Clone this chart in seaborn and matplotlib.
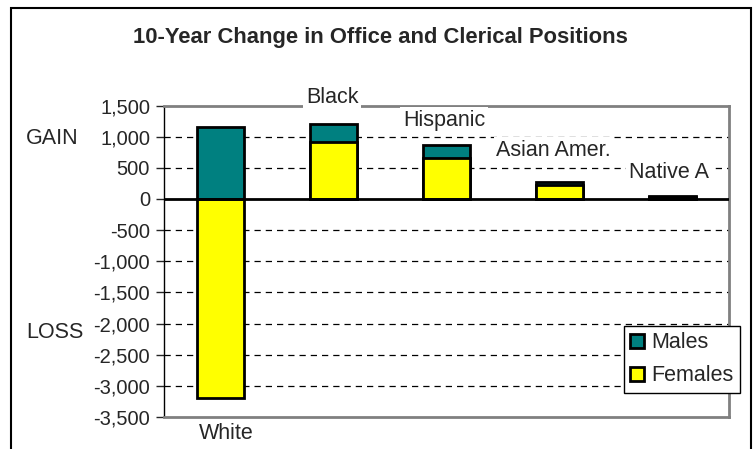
import matplotlib
matplotlib.use("Agg")
import matplotlib.pyplot as plt
import matplotlib.patches as mpatches
from matplotlib.ticker import FuncFormatter
import seaborn as sns
import pandas as pd

groups = ["White", "Black", "Hispanic", "Asian Amer.", "Native A"]
females = [-3200, 920, 665, 220, 25]
males = [1160, 290, 205, 45, 20]
yticks = list(range(-3500, 1501, 500))

teal = "#008080"
yellow = "#FFFF00"

# teal bar goes to the top of the stack, yellow (females) drawn over it
tops = [m + max(f, 0) for f, m in zip(females, males)]
df = pd.DataFrame({"group": groups, "Females": females, "top": tops})

sns.set_style("white")
plt.rcParams["font.family"] = ["Liberation Sans", "DejaVu Sans"]

fig = plt.figure(figsize=(7.53, 4.49), dpi=100)
ax = fig.add_axes([164 / 753, 1 - 417 / 449, 565 / 753, 311.5 / 449])

sns.barplot(data=df, x="group", y="top", color=teal, width=0.41,
            edgecolor="black", linewidth=2, saturation=1, ax=ax, zorder=3)
sns.barplot(data=df, x="group", y="Females", color=yellow, width=0.41,
            edgecolor="black", linewidth=2, saturation=1, ax=ax, zorder=3)

ax.set_ylim(-3500, 1500)
ax.set_xlim(-0.5, 4.5)
ax.set_yticks(yticks)
ax.yaxis.set_major_formatter(FuncFormatter(lambda v, p: f"{int(v):,}"))
ax.tick_params(axis="y", labelsize=14.5, length=6, width=1, direction="out",
               left=True, pad=4)
ax.set_xticks([])
ax.set_xlabel("")
ax.set_ylabel("")

for v in yticks:
    if v in (0, 1500, -3500):
        continue
    ax.axhline(v, color="black", linestyle=(0, (5, 4)), linewidth=0.9, zorder=1)
ax.axhline(0, color="black", linewidth=2, zorder=4)

for s in ["top", "right", "bottom"]:
    ax.spines[s].set_color("#808080")
    ax.spines[s].set_linewidth(2)
ax.spines["left"].set_color("black")
ax.spines["left"].set_linewidth(1)
for s in ax.spines.values():
    s.set_visible(True)

# category labels with white boxes
label_pos = [(0.05, -3590, "top"), (0.99, 1629, "center"), (1.98, 1258, "center"),
             (2.95, 774, "center"), (3.97, 419, "center")]
for (x, y, va), name in zip(label_pos, groups):
    ax.text(x, y, name, ha="center", va=va, fontsize=15.5, zorder=6, clip_on=False,
            bbox=dict(facecolor="white", edgecolor="none", pad=2))

fig.text(26 / 753, 1 - 139 / 449, "GAIN", fontsize=15.5, va="center")
fig.text(26 / 753, 1 - 332 / 449, "LOSS", fontsize=15.5, va="center")
fig.text(380 / 753, 1 - 37 / 449, "10-Year Change in Office and Clerical Positions",
         fontsize=15.8, fontweight="bold", ha="center", va="center")

handles = [mpatches.Patch(facecolor=teal, edgecolor="black", linewidth=2, label="Males"),
           mpatches.Patch(facecolor=yellow, edgecolor="black", linewidth=2, label="Females")]
leg = fig.legend(handles=handles, loc="upper left",
                 bbox_to_anchor=(624 / 753, 1 - 326 / 449), fontsize=15.5,
                 frameon=True, fancybox=False, borderpad=0.3, labelspacing=0.55,
                 handlelength=0.65, handleheight=0.65, handletextpad=0.3,
                 borderaxespad=0, framealpha=1)
leg.get_frame().set_edgecolor("black")
leg.get_frame().set_linewidth(1)
leg.set_zorder(10)

fig.patches.append(mpatches.Rectangle((11 / 753, -0.05), 740 / 753, 1 - 8 / 449 + 0.05,
                                      transform=fig.transFigure, fill=False,
                                      edgecolor="black", linewidth=1.5))

fig.savefig("out.png", dpi=100)
